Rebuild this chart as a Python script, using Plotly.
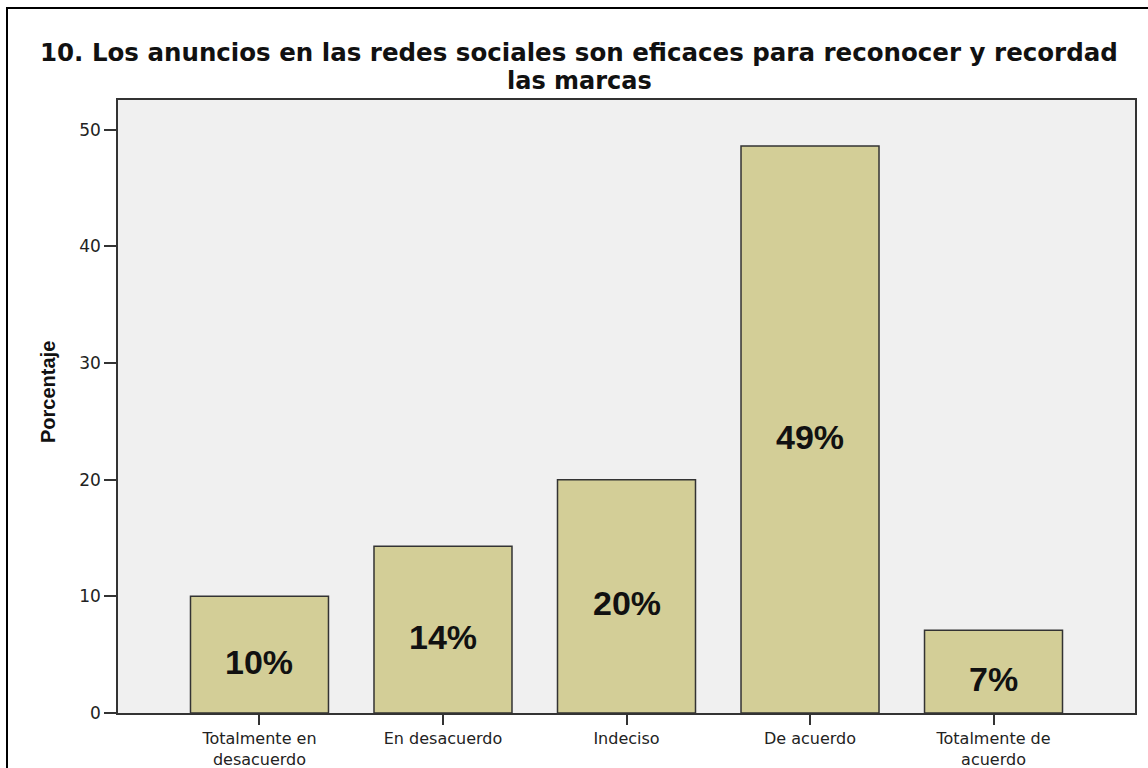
import plotly.graph_objects as go

# Survey item 10: response categories and percentages
categories = ["Totalmente en<br>desacuerdo", "En desacuerdo", "Indeciso", "De acuerdo", "Totalmente de<br>acuerdo"]
percentages = [10.0, 14.3, 20.0, 48.6, 7.1]
y_ticks = [0, 10, 20, 30, 40, 50]

W, H = 1148, 768
L, R, T, B = 118, 13, 100, 55
pw, ph = W - L - R, H - T - B


def px_x(x):
    return (x - L) / pw


def px_y(y):
    return (H - B - y) / ph


FONT = "Liberation Sans, Arial, sans-serif"
WIDE = "DejaVu Sans, sans-serif"
x_pos = list(range(len(categories)))

fig = go.Figure(
    go.Bar(
        x=x_pos,
        y=percentages,
        width=0.752,
        marker=dict(color="#d3ce97", line=dict(color="#333333", width=1.5)),
        hoverinfo="skip",
    )
)

# Percentage labels inside each bar
for xi, v in zip(x_pos, percentages):
    fig.add_annotation(
        x=xi, y=v / 2, xref="x", yref="y",
        text=f"<b>{round(v):d}%</b>", showarrow=False, yshift=-7,
        font=dict(family=FONT, size=34, color="#111111"),
    )

# Title (two lines)
fig.add_annotation(
    x=px_x(579), y=px_y(53), xref="paper", yref="paper",
    text="<b>10. Los anuncios en las redes sociales son eficaces para reconocer y recordad</b>",
    showarrow=False, xanchor="center", yanchor="middle",
    font=dict(family=WIDE, size=24.5, color="#111111"),
)
fig.add_annotation(
    x=px_x(579), y=px_y(81), xref="paper", yref="paper",
    text="<b>las marcas</b>",
    showarrow=False, xanchor="center", yanchor="middle",
    font=dict(family=WIDE, size=24, color="#111111"),
)

# Y axis title
fig.add_annotation(
    x=px_x(48), y=px_y(392), xref="paper", yref="paper",
    text="<b>Porcentaje</b>", textangle=-90, showarrow=False,
    xanchor="center", yanchor="middle",
    font=dict(family=FONT, size=20, color="#111111"),
)

# Outer frame (top and left edges)
fig.add_shape(type="line", xref="paper", yref="paper",
              x0=px_x(7), y0=px_y(770), x1=px_x(7), y1=px_y(8),
              line=dict(color="#000000", width=2))
fig.add_shape(type="line", xref="paper", yref="paper",
              x0=px_x(6), y0=px_y(8), x1=px_x(1150), y1=px_y(8),
              line=dict(color="#000000", width=2))

fig.update_layout(
    width=W, height=H,
    margin=dict(l=L, r=R, t=T, b=B, autoexpand=False),
    paper_bgcolor="#ffffff",
    plot_bgcolor="#f0f0f0",
    showlegend=False,
    font=dict(family=FONT, color="#222222"),
)

fig.update_xaxes(
    tickmode="array", tickvals=x_pos, ticktext=categories,
    range=[-0.771, 4.771],
    showgrid=False, zeroline=False,
    showline=True, linecolor="#333333", linewidth=1.5, mirror=True,
    ticks="outside", ticklen=10, tickwidth=1.5, tickcolor="#333333",
    tickfont=dict(family=WIDE, size=16, color="#222222"),
)
fig.update_yaxes(
    tickmode="array", tickvals=y_ticks,
    range=[0, 52.55],
    showgrid=False, zeroline=False,
    showline=True, linecolor="#333333", linewidth=1.5, mirror=True,
    ticks="outside", ticklen=12, tickwidth=1.5, tickcolor="#333333",
    tickfont=dict(family=WIDE, size=17, color="#222222"),
)

fig.write_html("out.html")
